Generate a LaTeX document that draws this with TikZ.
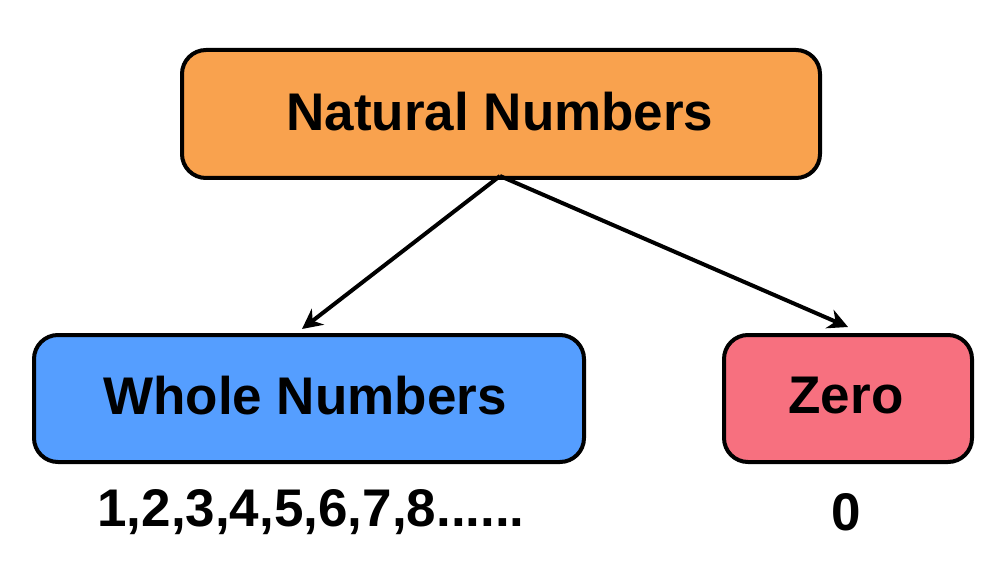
\documentclass[tikz,border=0pt]{standalone}
\usepackage{fontspec}
\setmainfont{Liberation Sans}
\usetikzlibrary{arrows.meta}
\definecolor{orangeb}{HTML}{F9A24E}
\definecolor{blueb}{HTML}{559EFF}
\definecolor{pinkb}{HTML}{F7707F}
\begin{document}
\begin{tikzpicture}[x=1pt,y=-1pt,
  box/.style={draw=black,line width=4pt,rounded corners=24pt,inner sep=0pt,anchor=north west},
  lbl/.style={font=\fontsize{53}{58}\selectfont\bfseries},
  arr/.style={line width=4pt,-{Stealth[length=20pt,width=20pt]}}]
\useasboundingbox (0,0) rectangle (1000,585);
\fill[white] (0,0) rectangle (1000,585);
\node[box,fill=orangeb,minimum width=638pt,minimum height=128pt] (nat) at (180,48) {};
\node[lbl] at (500,112) {Natural Numbers};
\node[box,fill=blueb,minimum width=550pt,minimum height=127pt] (whole) at (32,333) {};
\node[lbl] at (305,396) {Whole Numbers};
\node[box,fill=pinkb,minimum width=248pt,minimum height=127pt] (zero) at (722,333) {};
\node[lbl] at (846,396) {Zero};
\coordinate (top) at (500,176);
\coordinate (wt) at (302,329);
\coordinate (zt) at (848,327);
\draw[arr] (top) -- (wt);
\draw[arr] (top) -- (zt);
\node[lbl] (seq) at (311,512) {1,2,3,4,5,6,7,8......};
\node[lbl] (z0) at (846,512) {0};
\end{tikzpicture}
\end{document}
